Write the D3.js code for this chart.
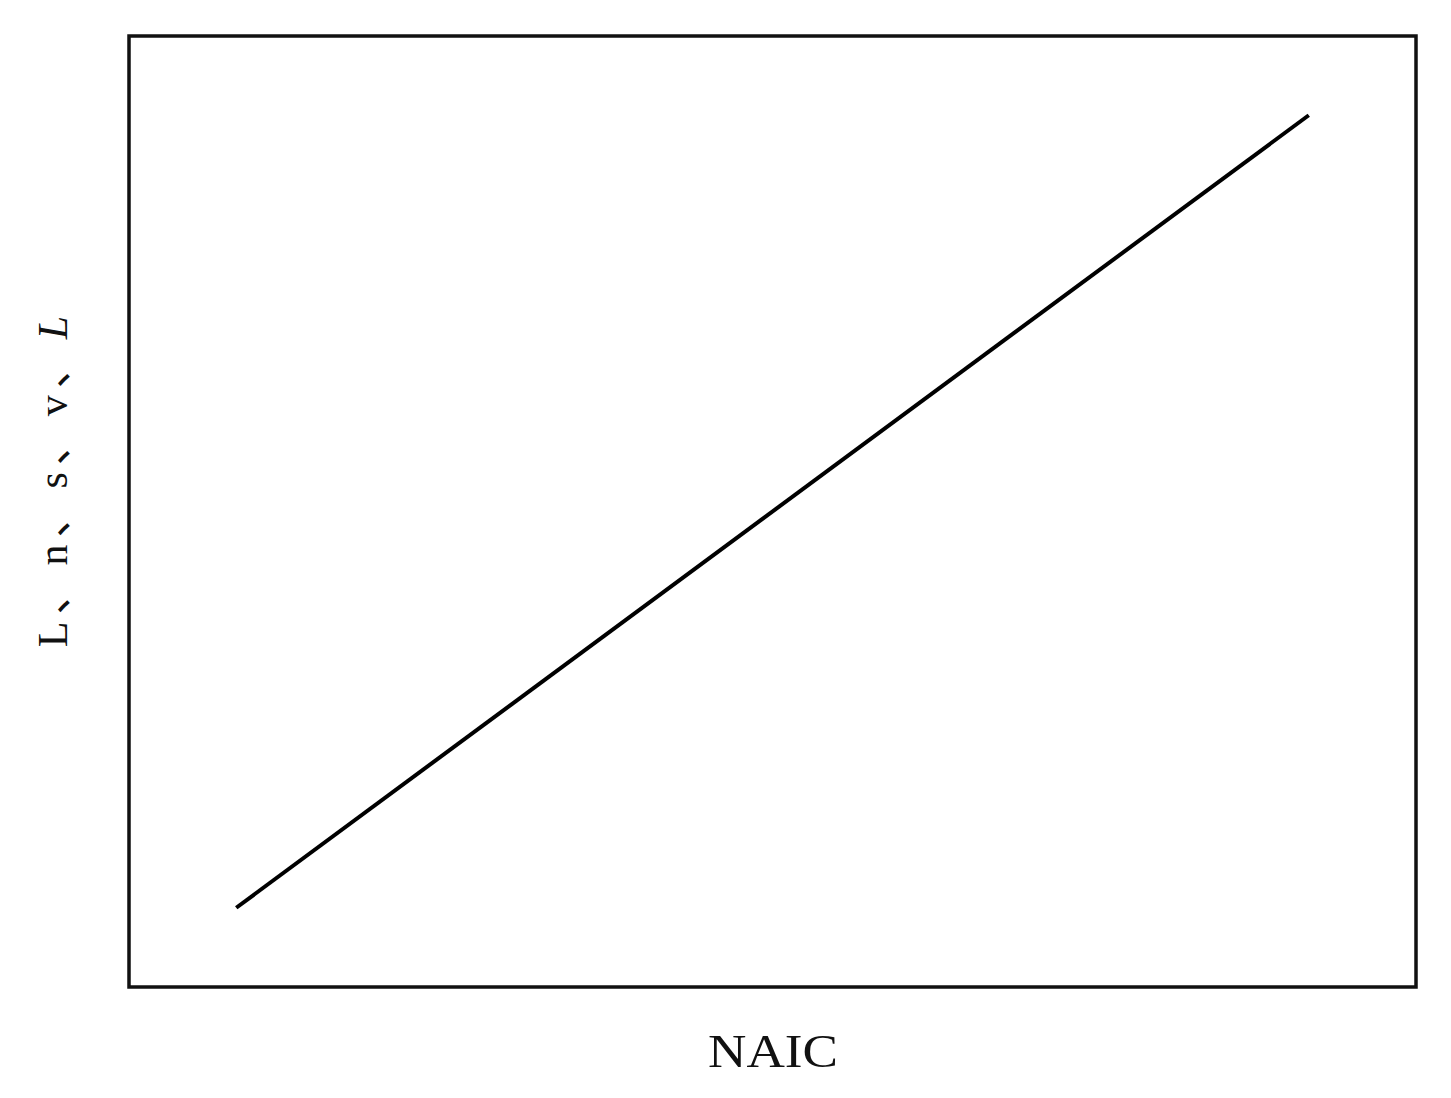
<!DOCTYPE html>
<html lang="en">
<head>
  <meta charset="UTF-8">
  <title>NAIC</title>
  <script src="https://cdn.jsdelivr.net/npm/d3@7/dist/d3.min.js"></script>
  <style>
    body { margin: 0; background: #fff; }
  </style>
</head>
<body>
  <svg width="1451" height="1098" id="main"></svg>
</body>
<script>
  // data
  const naic = [1, 11];
  const values = [1, 11];
  const xDomain = [0, 12];
  const yDomain = [0, 12];
  const xLabel = 'NAIC';
  const yLabelParts = [
    {t: 'L', italic: false}, {t: '、', italic: false},
    {t: 'n', italic: false}, {t: '、', italic: false},
    {t: 's', italic: false}, {t: '、', italic: false},
    {t: 'v', italic: false}, {t: '、', italic: false},
    {t: 'L', italic: true},
  ];

  const svg = d3.select('#main');
  const m = {left: 129, top: 36, right: 1416, bottom: 987};

  const x = d3.scaleLinear().domain(xDomain).range([m.left, m.right]);
  const y = d3.scaleLinear().domain(yDomain).range([m.bottom, m.top]);

  // frame
  svg.append('rect')
    .attr('x', x(xDomain[0]))
    .attr('y', y(yDomain[1]))
    .attr('width', x(xDomain[1]) - x(xDomain[0]))
    .attr('height', y(yDomain[0]) - y(yDomain[1]))
    .attr('fill', 'none')
    .attr('stroke', '#111')
    .attr('stroke-width', 3.5);

  // line
  const pts = naic.map((d, i) => [d, values[i]]);
  svg.append('path')
    .datum(pts)
    .attr('d', d3.line().x(d => x(d[0])).y(d => y(d[1])))
    .attr('fill', 'none')
    .attr('stroke', '#000')
    .attr('stroke-width', 4);

  // x label
  svg.append('text')
    .attr('x', 773)
    .attr('y', 1067)
    .attr('text-anchor', 'middle')
    .attr('font-family', '"Liberation Serif", "Times New Roman", serif')
    .attr('font-size', 47)
    .attr('textLength', 130)
    .attr('lengthAdjust', 'spacingAndGlyphs')
    .attr('fill', '#111')
    .text(xLabel);

  // y label (rotated)
  const yl = svg.append('text')
    .attr('transform', 'translate(67,478) rotate(-90)')
    .attr('text-anchor', 'middle')
    .attr('font-family', '"Liberation Serif", "Noto Sans CJK SC", serif')
    .attr('font-size', 42)
    .attr('letter-spacing', 7)
    .attr('fill', '#111');
  yl.selectAll('tspan')
    .data(yLabelParts)
    .enter()
    .append('tspan')
    .attr('font-style', d => d.italic ? 'italic' : 'normal')
    .attr('font-family', d => d.t === '、' ? '"Noto Sans CJK SC", sans-serif' : null)
    .text(d => d.t);
</script>
</html>
